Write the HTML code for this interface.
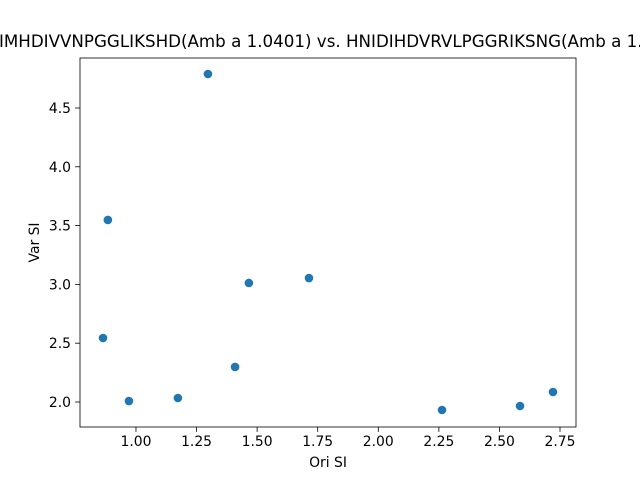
<!DOCTYPE html>
<html><head><meta charset="utf-8"><style>
body{margin:0;background:#fff}
svg{display:block;font-family:"DejaVu Sans","Liberation Sans",sans-serif}
</style></head><body>
<svg width="640" height="480" viewBox="0 0 640 480">
<rect width="640" height="480" fill="#fff"/>
<text x="339" y="47" font-size="16.7" text-anchor="middle">NIMHDIVVNPGGLIKSHD(Amb a 1.0401) vs. HNIDIHDVRVLPGGRIKSNG(Amb a 1.0402)</text>
<g id="plot"></g>
<rect x="80" y="58" width="496" height="369" fill="none" stroke="#000" stroke-width="0.8"/>
<text x="328" y="467" font-size="13.9" text-anchor="middle">Ori SI</text>
<text x="0" y="0" font-size="13.9" text-anchor="middle" transform="translate(39,242.5) rotate(-90)">Var SI</text>
</svg>
<script>
const xValues=[0.864,0.884,0.971,1.173,1.297,1.409,1.466,1.714,2.263,2.585,2.721];
const yValues=[2.544,3.548,2.008,2.034,4.789,2.298,3.012,3.054,1.932,1.966,2.085];
const xTicks=[1.00,1.25,1.50,1.75,2.00,2.25,2.50,2.75];
const yTicks=[2.0,2.5,3.0,3.5,4.0,4.5];
const L=80,R=576,T=58,B=427;
const xMin=0.769,xMax=2.816,yMin=1.7874,yMax=4.925;
const sx=v=>L+(v-xMin)/(xMax-xMin)*(R-L);
const sy=v=>B-(v-yMin)/(yMax-yMin)*(B-T);
const g=document.getElementById('plot');
const NS='http://www.w3.org/2000/svg';
xTicks.forEach(t=>{
 const x=sx(t);
 const l=document.createElementNS(NS,'line');
 l.setAttribute('x1',x);l.setAttribute('x2',x);l.setAttribute('y1',B);l.setAttribute('y2',B+4.9);l.setAttribute('stroke','#000');l.setAttribute('stroke-width','0.8');
 
 
 g.appendChild(l);
 const tx=document.createElementNS(NS,'text');
 tx.setAttribute('x',x);tx.setAttribute('y',B+19);tx.setAttribute('font-size','13.9');tx.setAttribute('text-anchor','middle');
 tx.textContent=t.toFixed(2);
 
 
 g.appendChild(tx);
});
yTicks.forEach(t=>{
 const y=sy(t);
 const l=document.createElementNS(NS,'line');
 l.setAttribute('x1',L-4.9);l.setAttribute('x2',L);l.setAttribute('y1',y);l.setAttribute('y2',y);l.setAttribute('stroke','#000');l.setAttribute('stroke-width','0.8');
 
 
 g.appendChild(l);
 const tx=document.createElementNS(NS,'text');
 tx.setAttribute('x',L-9);tx.setAttribute('y',y+5);tx.setAttribute('font-size','13.9');tx.setAttribute('text-anchor','end');
 tx.textContent=t.toFixed(1);
 
 
 g.appendChild(tx);
});
xValues.forEach((v,i)=>{
 const c=document.createElementNS(NS,'circle');
 c.setAttribute('cx',sx(v));c.setAttribute('cy',sy(yValues[i]));c.setAttribute('r','4.3');c.setAttribute('fill','#1f77b4');
 
 
 g.appendChild(c);
});
</script>
</body></html>
